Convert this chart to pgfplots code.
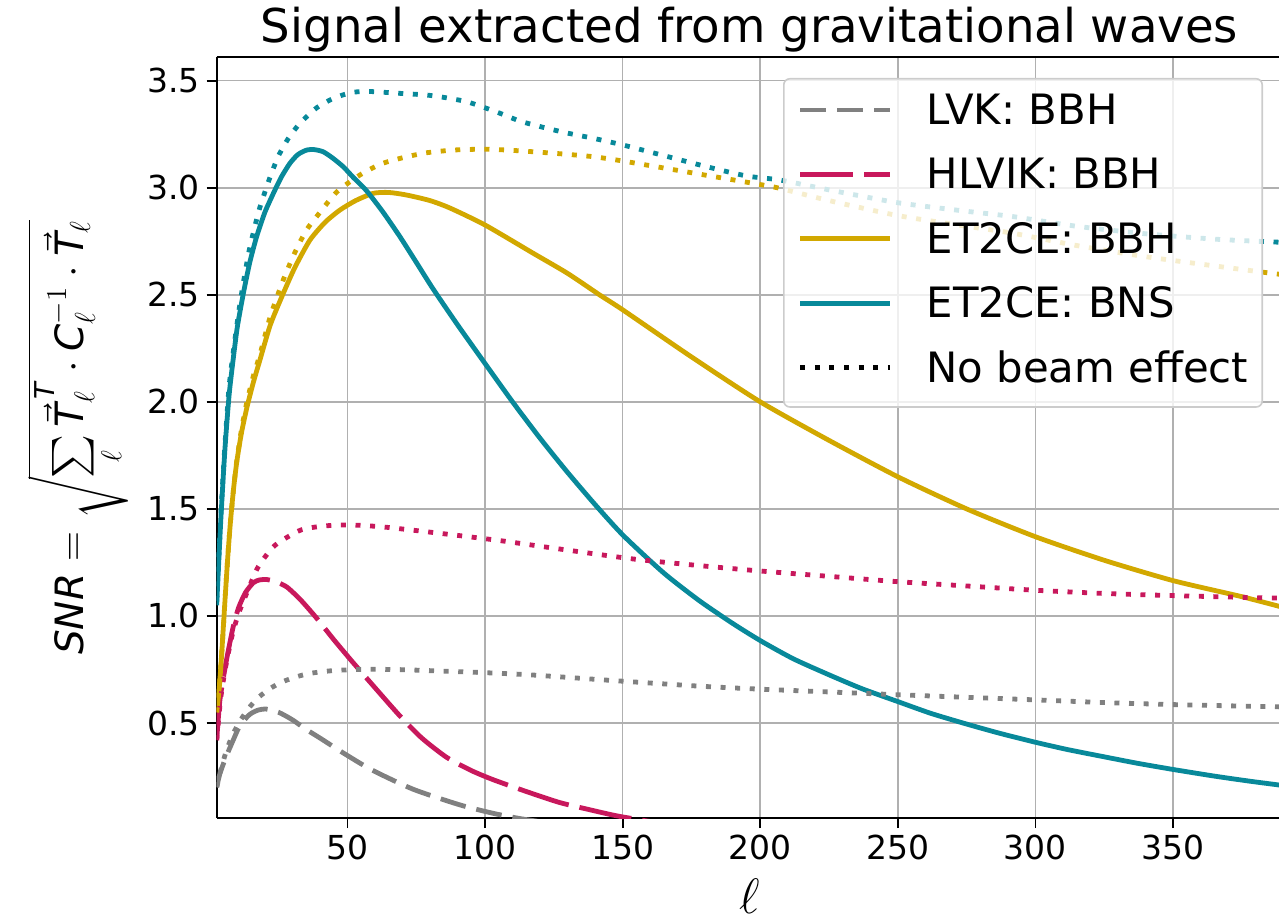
\documentclass[border=0pt]{standalone}
\usepackage{pgfplots}
\pgfplotsset{compat=1.18}
\usepackage{amsmath}
\usepackage{fontspec}
\setmainfont{DejaVu Sans}
\definecolor{cgray}{HTML}{808080}
\definecolor{ccrim}{HTML}{C8185C}
\definecolor{cgold}{HTML}{D2A800}
\definecolor{cteal}{HTML}{08899A}
\definecolor{cgrid}{HTML}{B0B0B0}
\newcommand{\ti}[1]{\text{\itshape #1}}
\begin{document}
\begin{tikzpicture}
\begin{axis}[
  at={(0pt,0pt)}, anchor=south west,
  scale only axis, width=531.15pt, height=380.5pt,
  xmin=2.5, xmax=388.5, ymin=0.0563, ymax=3.6107,
  axis x line*=box, axis y line*=left,
  axis line style={-, line width=1pt, black},
  tick pos=left, tick align=outside,
  major tick length=5pt,
  every tick/.style={black, line width=0.9pt},
  xtick={50,100,...,350},
  ytick={0.5,1.0,1.5,2.0,2.5,3.0,3.5},
  yticklabel style={/pgf/number format/.cd, fixed, fixed zerofill, precision=1},
  /pgf/number format/assume math mode=true,
  ticklabel style={font=\fontsize{16.5}{19}\selectfont},
  grid=major,
  major grid style={cgrid, line width=0.8pt},
  every axis plot/.append style={smooth, tension=0.4},
  legend cell align=left,
  legend image code/.code={\draw[#1] (0pt,2pt) -- (45pt,2pt);},
  legend style={at={(1,1)}, anchor=north east, xshift=-8pt, yshift=-10.5pt,
    font=\fontsize{20.9}{24}\selectfont,
    draw=black!20, line width=0.8pt, rounded corners=3pt,
    fill=white, fill opacity=0.8, draw opacity=1, text opacity=1,
    inner xsep=7pt, inner ysep=7.5pt, row sep=11.9pt, column sep=17pt,
    nodes={inner sep=0pt, text height=15.4pt, text depth=4.9pt}},
]
% LVK BBH
\addplot[cgray, line width=2.4pt, dash pattern=on 13pt off 5.5pt] coordinates {
(2.5,0.20) (3.7,0.265) (6,0.345) (8.5,0.42) (11,0.49) (14.5,0.54) (17.5,0.56) (20.5,0.565) (25,0.55) (30,0.515) (35,0.47) (40,0.43) (48.5,0.36) (59,0.28) (74,0.19) (91,0.117) (103,0.078) (113,0.053) (125,0.03)};
\addlegendentry{LVK: BBH}
% HLVIK BBH
\addplot[ccrim, line width=2.4pt, dash pattern=on 26.5pt off 5.5pt] coordinates {
(2.5,0.42) (3.7,0.61) (6,0.79) (8.5,0.95) (10.5,1.04) (13,1.11) (15.8,1.155) (18,1.168) (20.7,1.17) (24,1.16) (28,1.135) (33,1.075) (38.8,0.99) (45,0.89) (52,0.783) (60,0.665) (69,0.534) (77,0.43) (86,0.34) (95,0.278) (103,0.235) (115,0.18) (127,0.129) (138,0.095) (148,0.066) (160,0.04) (170,0.02)};
\addlegendentry{HLVIK: BBH}
% ET2CE BBH
\addplot[cgold, line width=2.4pt] coordinates {
(2.5,0.55) (3.4,0.66) (4.3,0.82) (5.5,1.07) (6.5,1.27) (7.5,1.44) (8.6,1.59) (9.8,1.72) (11.5,1.855) (13.5,1.975) (15.8,2.09) (18.2,2.195) (22,2.36) (26.7,2.507) (31,2.63) (36.4,2.756) (42,2.84) (47.3,2.896) (53,2.94) (59.4,2.974) (65,2.978) (71.5,2.966) (80,2.94) (87.3,2.905) (100,2.826) (117.5,2.694) (130,2.6) (141.7,2.499) (150,2.43) (175,2.21) (200,2.0) (225,1.82) (250,1.65) (275,1.5) (300,1.37) (325,1.26) (350,1.165) (375,1.09) (390,1.04)};
\addlegendentry{ET2CE: BBH}
% ET2CE BNS
\addplot[cteal, line width=2.4pt] coordinates {
(2.5,1.05) (4,1.45) (5.5,1.78) (7,2.03) (8.5,2.2) (10,2.35) (12.2,2.507) (14.5,2.65) (17,2.771) (20,2.885) (23.1,2.974) (26,3.05) (29.1,3.114) (32,3.155) (35.2,3.176) (38,3.178) (41.2,3.168) (44.5,3.14) (48.5,3.098) (52,3.05) (57,2.985) (63,2.885) (69.1,2.771) (75,2.652) (81.2,2.526) (90,2.36) (99.4,2.19) (110,2.0) (120,1.83) (129.7,1.675) (140,1.52) (150.3,1.375) (165,1.2) (178,1.07) (190,0.965) (200,0.885) (212,0.8) (225,0.725) (237,0.66) (250,0.60) (262,0.545) (275,0.495) (287,0.452) (300,0.41) (312,0.375) (325,0.342) (337,0.312) (350,0.283) (365,0.252) (378,0.228) (390,0.208)};
\addlegendentry{ET2CE: BNS}
\addlegendimage{black, line width=2.4pt, dash pattern=on 2.5pt off 4.8pt}
\addlegendentry{No beam effect}
% no beam
\addplot[forget plot, cgray, line width=2.4pt, dash pattern=on 2.5pt off 4.8pt] coordinates {
(2.5,0.20) (4,0.28) (6,0.37) (8.5,0.45) (11,0.51) (14.5,0.575) (18,0.623) (22,0.662) (26.5,0.693) (31.5,0.716) (36.5,0.732) (45,0.745) (57,0.751) (70,0.749) (81,0.744) (100,0.735) (117.5,0.724) (148,0.697) (178,0.672) (200,0.658) (225,0.645) (250,0.632) (275,0.62) (300,0.608) (326,0.595) (350,0.586) (375,0.579) (390,0.575)};
\addplot[forget plot, ccrim, line width=2.4pt, dash pattern=on 2.5pt off 4.8pt] coordinates {
(2.5,0.42) (4,0.62) (6,0.78) (8.5,0.93) (11,1.03) (13.4,1.106) (17.6,1.23) (23.7,1.33) (32.8,1.40) (40,1.418) (47.3,1.425) (55,1.423) (64.3,1.414) (83.6,1.386) (105.4,1.352) (129.7,1.308) (153.9,1.266) (178,1.235) (200,1.21) (225,1.185) (250,1.16) (275,1.14) (300,1.12) (325,1.105) (350,1.095) (375,1.087) (390,1.083)};
\addplot[forget plot, cgold, line width=2.4pt, dash pattern=on 2.5pt off 4.8pt] coordinates {
(2.5,0.55) (3.4,0.66) (4.3,0.82) (5.5,1.07) (6.5,1.27) (7.5,1.44) (8.6,1.59) (9.8,1.725) (11.5,1.87) (13.5,2.0) (15.8,2.12) (18.2,2.22) (22,2.4) (26.7,2.57) (31,2.7) (35,2.8) (38.8,2.865) (46.1,2.98) (54.6,3.06) (62,3.11) (69.1,3.137) (78,3.162) (88.5,3.176) (99.4,3.18) (108,3.176) (117.5,3.168) (128,3.158) (139.3,3.145) (150,3.125) (175,3.07) (200,3.015) (207.2,2.997) (225,2.94) (250,2.87) (275,2.82) (292,2.787) (315,2.73) (340,2.678) (365,2.635) (386,2.60) (390,2.594)};
\addplot[forget plot, cteal, line width=2.4pt, dash pattern=on 2.5pt off 4.8pt] coordinates {
(2.5,1.07) (4,1.47) (5.5,1.8) (7,2.07) (8.5,2.23) (10.5,2.42) (12.5,2.58) (14.6,2.725) (18,2.9) (21.9,3.05) (25,3.15) (28.5,3.23) (32,3.29) (35.2,3.332) (39,3.375) (43.7,3.41) (48,3.432) (52.1,3.446) (57,3.45) (63,3.446) (70,3.44) (78.8,3.433) (86,3.42) (93.3,3.402) (99,3.378) (105.4,3.348) (113,3.31) (122.4,3.278) (130,3.255) (139.3,3.231) (150,3.2) (165,3.15) (180,3.1) (195,3.055) (207.2,3.036) (225,2.99) (250,2.93) (275,2.89) (292,2.865) (315,2.82) (340,2.785) (365,2.76) (384,2.748) (390,2.745)};
\end{axis}
\node[anchor=base, font=\fontsize{23.3}{27}\selectfont] at (266.4pt,387.5pt) {Signal extracted from gravitational waves};
\node[anchor=base, inner sep=0pt, font=\fontsize{24}{28}\selectfont] at (266.4pt,-47.5pt) {$\ell$};
\node[rotate=90, anchor=base, inner sep=0pt, font=\fontsize{19.5}{23}\selectfont] at (-66.35pt,190.25pt) {\textit{SNR} $=\sqrt{\textstyle\sum\limits_{\ell}\vec{\ti{T}}_{\ell}^{\,\ti{T}}\cdot\ti{C}_{\ell}^{-1}\cdot\vec{\ti{T}}_{\ell}}$};
\pgfresetboundingbox
\path[use as bounding box] (-108.35pt,-51pt) rectangle (531.15pt,409pt);
\end{tikzpicture}
\end{document}
